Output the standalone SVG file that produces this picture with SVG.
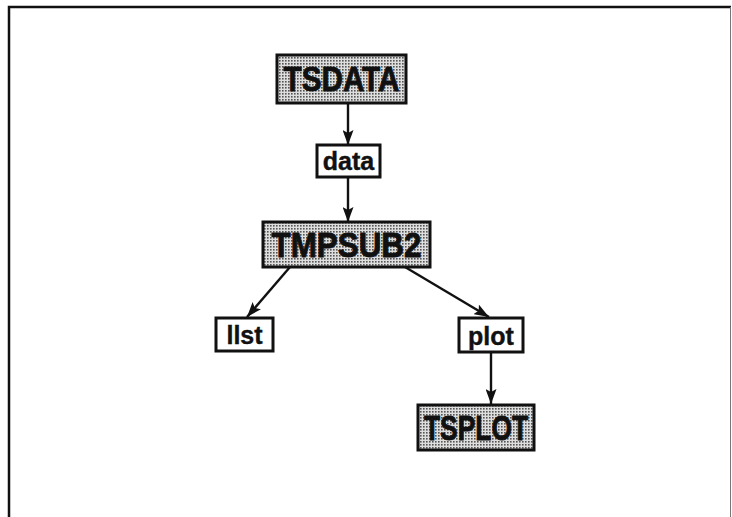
<svg xmlns="http://www.w3.org/2000/svg" width="732" height="517" viewBox="0 0 732 517">
  <style>
    .box { stroke: #111; stroke-width: 3; }
    .prog { fill: url(#stipple); }
    .file { fill: #fff; }
    .big { font-family: "Liberation Sans", Arial, sans-serif; font-weight: bold; font-size: 35px; fill: #111; stroke: #111; stroke-width: 0.9; text-anchor: middle; }
    .small { font-family: "Liberation Sans", Arial, sans-serif; font-weight: bold; font-size: 25px; fill: #111; stroke: #111; stroke-width: 0.4; text-anchor: middle; }
    .edge { stroke: #111; stroke-width: 2.4; fill: none; marker-end: url(#head); }
  </style>
  <defs>
    <pattern id="stipple" width="3" height="3" patternUnits="userSpaceOnUse">
      <rect width="3" height="3" fill="#dedede"/>
      <rect x="0" y="0" width="1.6" height="1.6" fill="#555"/>
    </pattern>
    <marker id="head" viewBox="0 0 15 11" refX="15" refY="5.5" markerWidth="15" markerHeight="11" markerUnits="userSpaceOnUse" orient="auto">
      <path d="M0,0 L15,5.5 L0,11 L3,5.5 Z" fill="#111"/>
    </marker>
  </defs>

  <rect width="732" height="517" fill="#fff"/>
  <!-- page frame: heavy top and left rules, faint right rule -->
  <path d="M9,517 V7 H731" fill="none" stroke="#111" stroke-width="2.5"/>
  <line x1="730.5" y1="7" x2="730.5" y2="517" stroke="#777" stroke-width="1"/>

  <g id="connectors">
    <line class="edge" x1="348" y1="103" x2="348" y2="145"/>
    <line class="edge" x1="348" y1="177" x2="348" y2="222"/>
    <line class="edge" x1="290" y1="267" x2="247" y2="317"/>
    <line class="edge" x1="405" y1="267" x2="489" y2="317"/>
    <line class="edge" x1="491" y1="352" x2="491" y2="404"/>
  </g>

  <g id="tsdata">
    <rect class="box prog" x="277" y="55" width="129" height="48"/>
    <text class="big" x="341.5" y="91" textLength="116" lengthAdjust="spacingAndGlyphs">TSDATA</text>
  </g>
  <g id="data">
    <rect class="box file" x="317" y="145" width="63" height="32"/>
    <text class="small" x="348.5" y="170">data</text>
  </g>
  <g id="tmpsub2">
    <rect class="box prog" x="263" y="222" width="167" height="45"/>
    <text class="big" x="346.5" y="257" font-size="34" textLength="150" lengthAdjust="spacingAndGlyphs">TMPSUB2</text>
  </g>
  <g id="llst">
    <rect class="box file" x="216" y="318" width="57" height="33"/>
    <text class="small" x="244.5" y="344">llst</text>
  </g>
  <g id="plot">
    <rect class="box file" x="459" y="318" width="64" height="34"/>
    <text class="small" x="491" y="345">plot</text>
  </g>
  <g id="tsplot">
    <rect class="box prog" x="418" y="405" width="116" height="45"/>
    <text class="big" x="476" y="440" font-size="34" textLength="104" lengthAdjust="spacingAndGlyphs">TSPLOT</text>
  </g>
</svg>
